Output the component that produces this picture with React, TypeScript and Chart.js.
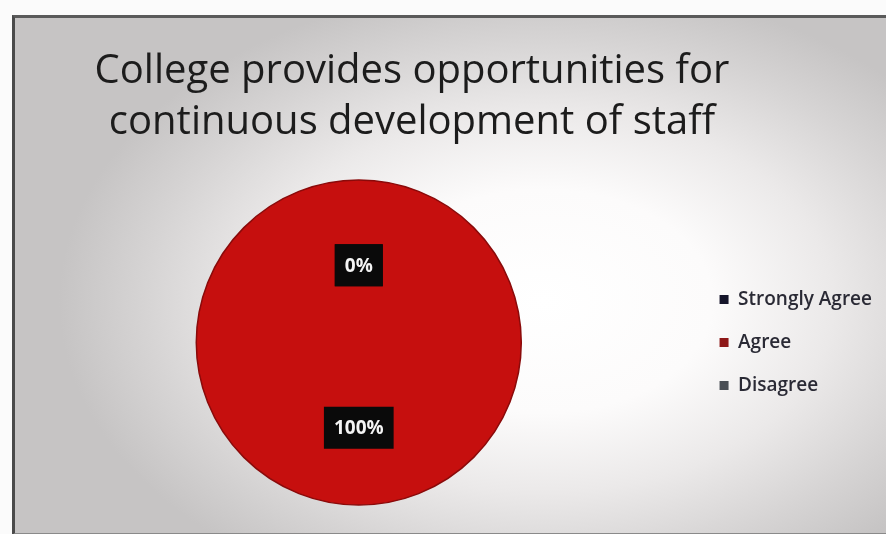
import React, { useEffect, useRef } from "react";
import { Chart, registerables } from "chart.js";

Chart.register(...registerables);

const titleLines = ["College provides opportunities for", "continuous development of staff"];
const categories = ["Strongly Agree", "Agree", "Disagree"];
const values = [0, 100, 0];
const sliceColors = ["#16162a", "#c60f0e", "#5c5c5c"];
const legendColors = ["#15152a", "#8e1818", "#4a4f55"];

const FONT = "'Open Sans', 'DejaVu Sans', sans-serif";

const titlePlugin = {
  id: "slideTitle",
  afterDraw(chart: any) {
    const ctx = chart.ctx;
    ctx.save();
    ctx.fillStyle = "#1c1c1c";
    ctx.font = `40px ${FONT}`;
    ctx.textAlign = "center";
    ctx.textBaseline = "alphabetic";
    titleLines.forEach((line, i) => {
      ctx.fillText(line, 412, 83 + i * 51);
    });
    ctx.restore();
  },
};

const labelPlugin = {
  id: "sliceLabels",
  afterDatasetsDraw(chart: any) {
    const ctx = chart.ctx;
    const meta = chart.getDatasetMeta(0);
    const data = chart.data.datasets[0].data as number[];
    const total = data.reduce((a, b) => a + b, 0);
    ctx.save();
    const first = meta.data[0] as any;
    if (first) {
      ctx.beginPath();
      ctx.arc(first.x, first.y, first.outerRadius, 0, Math.PI * 2);
      ctx.strokeStyle = "#8a0a0a";
      ctx.lineWidth = 1.5;
      ctx.stroke();
    }
    ctx.font = `bold 19px ${FONT}`;
    ctx.textAlign = "center";
    ctx.textBaseline = "middle";
    meta.data.forEach((arc: any, i: number) => {
      const pos = arc.tooltipPosition();
      const cy = pos.y + 4;
      const text = Math.round((data[i] / total) * 100) + "%";
      const w = ctx.measureText(text).width + 20;
      const h = 42;
      ctx.fillStyle = "#0a0a0a";
      ctx.fillRect(pos.x - w / 2, cy - h / 2, w, h);
      ctx.fillStyle = "#f4f4f4";
      ctx.fillText(text, pos.x, cy + 1);
    });
    ctx.restore();
  },
};

export default function App() {
  const ref = useRef<HTMLCanvasElement>(null);
  useEffect(() => {
    if (!ref.current) return;
    const chart = new Chart(ref.current, {
      type: "pie",
      data: {
        labels: categories,
        datasets: [
          {
            data: values,
            backgroundColor: sliceColors,
            borderWidth: 0,
          },
        ],
      },
      options: {
        animation: false,
        responsive: false,
        rotation: 0,
        layout: { padding: { left: 22, right: 4, top: 180, bottom: 29 } },
        plugins: {
          title: { display: false },
          tooltip: { enabled: false },
          legend: {
            position: "right",
            labels: {
              boxWidth: 9,
              boxHeight: 9,
              padding: 24,
              color: "#2a2a35",
              font: { family: FONT, size: 19, weight: "600" },
              generateLabels: (c: any) => {
                const base = Chart.overrides.pie.plugins.legend.labels.generateLabels(c);
                return base.map((it: any, i: number) => ({
                  ...it,
                  fillStyle: legendColors[i],
                  strokeStyle: legendColors[i],
                  lineWidth: 0,
                  hidden: false,
                }));
              },
            },
          },
        },
      } as any,
      plugins: [titlePlugin, labelPlugin],
    });
    return () => chart.destroy();
  }, []);

  return (
    <div
      style={{
        position: "absolute",
        left: 0,
        top: 0,
        width: 886,
        height: 534,
        overflow: "hidden",
        background: "#fbfbfb",
      }}
    >
      <div
        style={{
          position: "absolute",
          left: 12,
          top: 15,
          width: 880,
          height: 515,
          borderLeft: "3px solid #4a4a4a",
          borderTop: "3px solid #5a5a5a",
          borderBottom: "2px solid #8a8a8a",
          background:
            "radial-gradient(ellipse 55% 62% at 60% 55%, #ffffff 0%, #fcfbfb 35%, #ebe9e9 60%, #d6d4d4 82%, #c6c4c4 100%)",
        }}
      />
      <canvas
        ref={ref}
        width={886}
        height={534}
        style={{ position: "absolute", left: 0, top: 0, width: 886, height: 534 }}
      />
    </div>
  );
}
